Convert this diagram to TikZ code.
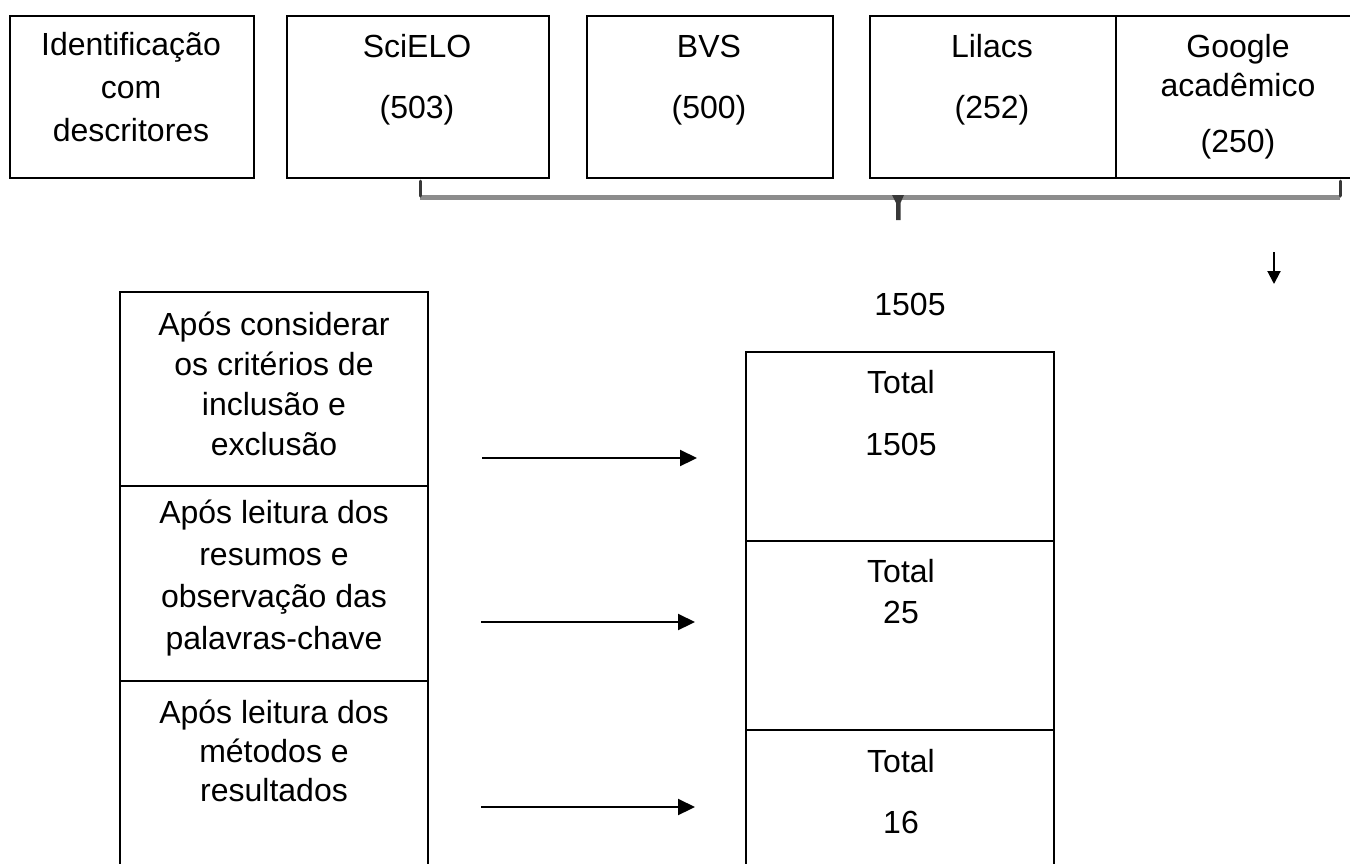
\documentclass[tikz,border=0pt]{standalone}
\usepackage{fontspec}
\setmainfont{Liberation Sans}
\usetikzlibrary{arrows.meta}
\newcommand\bigfs{\fontsize{32}{40}\selectfont}
\begin{document}
\begin{tikzpicture}[x=1pt,y=-1pt,
  box/.style={draw=black, line width=2.2pt, rectangle, inner sep=0pt, anchor=north west},
  txt/.style={inner sep=0pt, anchor=north, align=center, font=\bigfs},
  arr/.style={line width=2.2pt, -{Triangle[length=17pt,width=16pt]}},
  bracedark/.style={draw=black!78, line width=3pt},
  bracegrey/.style={draw=black!45, line width=5pt}]
\useasboundingbox (0,0) rectangle (1350,863);
\clip (0,0) rectangle (1350,863);
\fill[white] (0,0) rectangle (1350,863);

% top row
\node[box, minimum width=244pt, minimum height=162pt] (b1) at (9,15) {};
\node[box, minimum width=262pt, minimum height=162pt] (scielo) at (286,15) {};
\node[box, minimum width=246pt, minimum height=162pt] (bvs) at (586,15) {};
\node[box, minimum width=246pt, minimum height=162pt] (lilacs) at (869,15) {};
\node[box, minimum width=260pt, minimum height=162pt] (google) at (1115,15) {};

\node[txt] (t1) at (131,27) {\strut Identificação\\[3pt]\strut com\\[3pt]\strut descritores};
\node[txt] (tscielo) at (417,29) {\strut SciELO\\[21pt]\strut (503)};
\node[txt] (tbvs) at (709,29) {\strut BVS\\[21pt]\strut (500)};
\node[txt] (tlilacs) at (992,29) {\strut Lilacs\\[21pt]\strut (252)};
\node[txt] (tgoogle) at (1238,29) {\strut Google\\[-1pt]\strut acadêmico\\[16pt]\strut (250)};

% brace
\coordinate (brl) at (420,181);
\coordinate (brr) at (1340,181);
\coordinate (brm) at (898,197);
\coordinate (brt) at (898,220);
\draw[bracegrey] (420,197.5) -- (1340,197.5);
\draw[bracedark, line cap=round] (brl) -- ++(0,15);
\draw[bracedark, line cap=round] (brr) -- ++(0,15);
\fill[black!78] (892,195) -- (904,195) -- (900.5,203) -- (900.5,220) -- (896,220) -- (896,203) -- cycle;
\path (brm) -- (brt);

% down arrow
\coordinate (ds) at (1274,252);
\coordinate (de) at (1274,284);
\draw[line width=2pt, -{Triangle[length=13pt,width=13pt]}] (ds) -- (de);

\node[txt] (sum) at (910,287) {\strut 1505};

% left column
\node[box, minimum width=308pt, minimum height=194pt] (L1) at (119,291) {};
\node[box, minimum width=308pt, minimum height=195pt] (L2) at (119,485) {};
\node[box, minimum width=308pt, minimum height=230pt] (L3) at (119,680) {};

\node[txt] (tL1) at (274,307) {\strut Após considerar\\\strut os critérios de\\\strut inclusão e\\\strut exclusão};
\node[txt] (tL2) at (274,495) {\strut Após leitura dos\\[2pt]\strut resumos e\\[2pt]\strut observação das\\[2pt]\strut palavras-chave};
\node[txt] (tL3) at (274,695) {\strut Após leitura dos\\[-1pt]\strut métodos e\\[-1pt]\strut resultados};

% right column
\node[box, minimum width=308pt, minimum height=189pt] (R1) at (745,351) {};
\node[box, minimum width=308pt, minimum height=189pt] (R2) at (745,540) {};
\node[box, minimum width=308pt, minimum height=230pt] (R3) at (745,729) {};

\node[txt] (tR1) at (901,365) {\strut Total\\[22pt]\strut 1505};
\node[txt] (tR2) at (901,554) {\strut Total\\[1pt]\strut 25};
\node[txt] (tR3) at (901,744) {\strut Total\\[21pt]\strut 16};

% arrows
\coordinate (a1s) at (482,458);
\coordinate (a1e) at (697,458);
\coordinate (a2s) at (481,622);
\coordinate (a2e) at (695,622);
\coordinate (a3s) at (481,807);
\coordinate (a3e) at (695,807);
\draw[arr] (a1s) -- (a1e);
\draw[arr] (a2s) -- (a2e);
\draw[arr] (a3s) -- (a3e);
\end{tikzpicture}
\end{document}
